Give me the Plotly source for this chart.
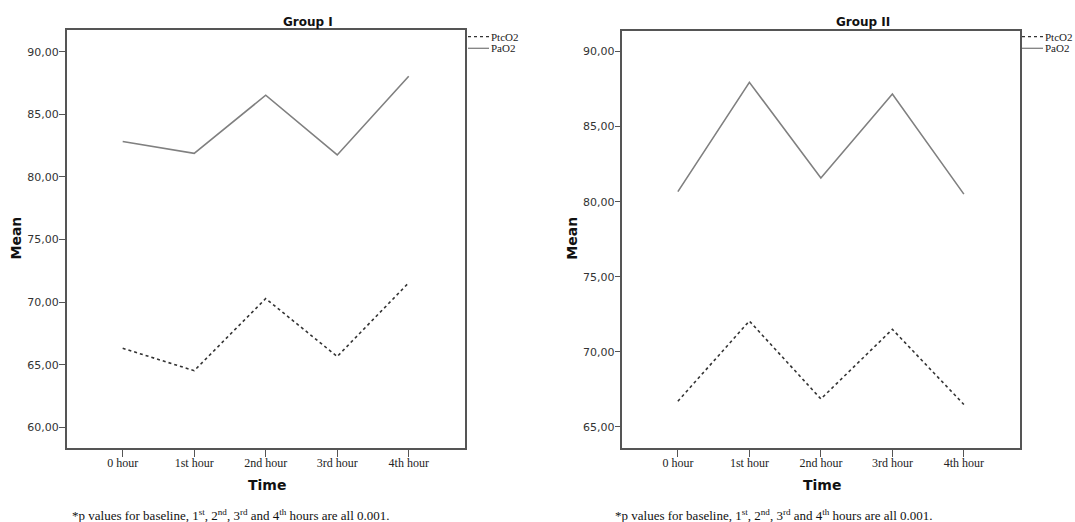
import plotly.graph_objects as go

times = ["0 hour", "1st hour", "2nd hour", "3rd hour", "4th hour"]
g1_ptco2 = [66.31, 64.52, 70.28, 65.65, 71.54]
g1_pao2 = [82.82, 81.88, 86.52, 81.75, 88.04]
g2_ptco2 = [66.71, 72.05, 66.86, 71.50, 66.49]
g2_pao2 = [80.67, 87.95, 81.57, 87.17, 80.50]
g1_yticks = [60, 65, 70, 75, 80, 85, 90]
g2_yticks = [65, 70, 75, 80, 85, 90]
series_names = ["PtcO2", "PaO2"]

W, H = 1075, 522
fig = go.Figure()

dot_style = dict(color="#333333", width=1.6, dash="dot")
sol_style = dict(color="#808080", width=1.6)

fig.add_trace(go.Scatter(x=times, y=g1_ptco2, mode="lines", name=series_names[0], line=dot_style,
                         xaxis="x", yaxis="y"))
fig.add_trace(go.Scatter(x=times, y=g1_pao2, mode="lines", name=series_names[1], line=sol_style,
                         xaxis="x", yaxis="y"))
fig.add_trace(go.Scatter(x=times, y=g2_ptco2, mode="lines", name=series_names[0], line=dot_style,
                         xaxis="x2", yaxis="y2"))
fig.add_trace(go.Scatter(x=times, y=g2_pao2, mode="lines", name=series_names[1], line=sol_style,
                         xaxis="x2", yaxis="y2"))

frame = "#555555"
xcommon = dict(showline=True, linecolor=frame, linewidth=1.5, mirror=True, showgrid=False,
               zeroline=False, ticks="outside", ticklen=7, tickcolor=frame, tickwidth=1.2,
               automargin=False, ticklabelstandoff=-4,
               tickfont=dict(family="Liberation Serif", size=12, color="#222222"))
ycommon = dict(showline=True, linecolor=frame, linewidth=1.5, mirror=True, showgrid=False,
               zeroline=False, ticks="outside", ticklen=6, tickcolor=frame, tickwidth=1.2,
               tickformat=".2f", automargin=False, ticklabelstandoff=-2,
               tickfont=dict(family="DejaVu Sans", size=11, color="#333333"))

fig.update_layout(
    width=W, height=H, margin=dict(l=0, r=0, t=0, b=0, autoexpand=False),
    paper_bgcolor="white", plot_bgcolor="white",
    separators=",.", showlegend=False,
    xaxis=dict(domain=[66.7 / W, 465 / W], range=[-0.783, 4.787], anchor="y", **xcommon),
    yaxis=dict(domain=[1 - 448.3 / H, 1 - 30 / H], range=[58.32, 91.73], tickvals=g1_yticks,
               anchor="x", **ycommon),
    xaxis2=dict(domain=[622.4 / W, 1020 / W], range=[-0.776, 4.785], anchor="y2", **xcommon),
    yaxis2=dict(domain=[1 - 447.9 / H, 1 - 30.5 / H], range=[63.6, 91.4], tickvals=g2_yticks,
                anchor="x2", **ycommon),
)

# axis titles
ttl_font = dict(family="DejaVu Sans", size=14, color="#111111")
for xc in (15.5, 571.7):
    fig.add_annotation(text="<b>Mean</b>", x=xc / W, y=1 - 238 / H, xref="paper", yref="paper",
                       showarrow=False, font=ttl_font, textangle=-90,
                       xanchor="center", yanchor="middle")
for xc in (266.5, 821.7):
    fig.add_annotation(text="<b>Time</b>", x=xc / W, y=1 - 484.5 / H, xref="paper", yref="paper",
                       showarrow=False, font=ttl_font, xanchor="center", yanchor="middle")

# key (legend) drawn beside each panel
leg_font = dict(family="Liberation Serif", size=11, color="#222222")
for x0 in (468, 1022):
    for i, (name, st) in enumerate(zip(series_names, [dot_style, sol_style])):
        yy = 1 - (36.7 + 11.6 * i) / H
        fig.add_shape(type="line", xref="paper", yref="paper", x0=x0 / W, x1=(x0 + 21) / W,
                      y0=yy, y1=yy, line=dict(color=st["color"], width=1.3, dash=st.get("dash", "solid")))
        fig.add_annotation(text=name, x=(x0 + 22) / W, y=yy, xref="paper", yref="paper",
                           showarrow=False, font=leg_font, xanchor="left", yanchor="middle",
                           borderpad=0)

title_font = dict(family="DejaVu Sans", size=12, color="#111111")
fig.add_annotation(text="<b>Group I</b>", x=308 / W, y=1 - 21.7 / H, xref="paper", yref="paper",
                   showarrow=False, font=title_font, xanchor="center", yanchor="middle")
fig.add_annotation(text="<b>Group II</b>", x=863 / W, y=1 - 21.7 / H, xref="paper", yref="paper",
                   showarrow=False, font=title_font, xanchor="center", yanchor="middle")

foot = "*p values for baseline, 1<sup>st</sup>, 2<sup>nd</sup>, 3<sup>rd</sup> and 4<sup>th</sup> hours are all 0.001."
foot_font = dict(family="Liberation Serif", size=13, color="#111111")
fig.add_annotation(text=foot, x=70 / W, y=1 - 515 / H, xref="paper", yref="paper",
                   showarrow=False, font=foot_font, xanchor="left", yanchor="middle")
fig.add_annotation(text=foot, x=613 / W, y=1 - 515 / H, xref="paper", yref="paper",
                   showarrow=False, font=foot_font, xanchor="left", yanchor="middle")

fig.write_html("out.html", config={"displayModeBar": False},
               post_script="document.body.style.margin='0';document.body.style.overflow='hidden';")
